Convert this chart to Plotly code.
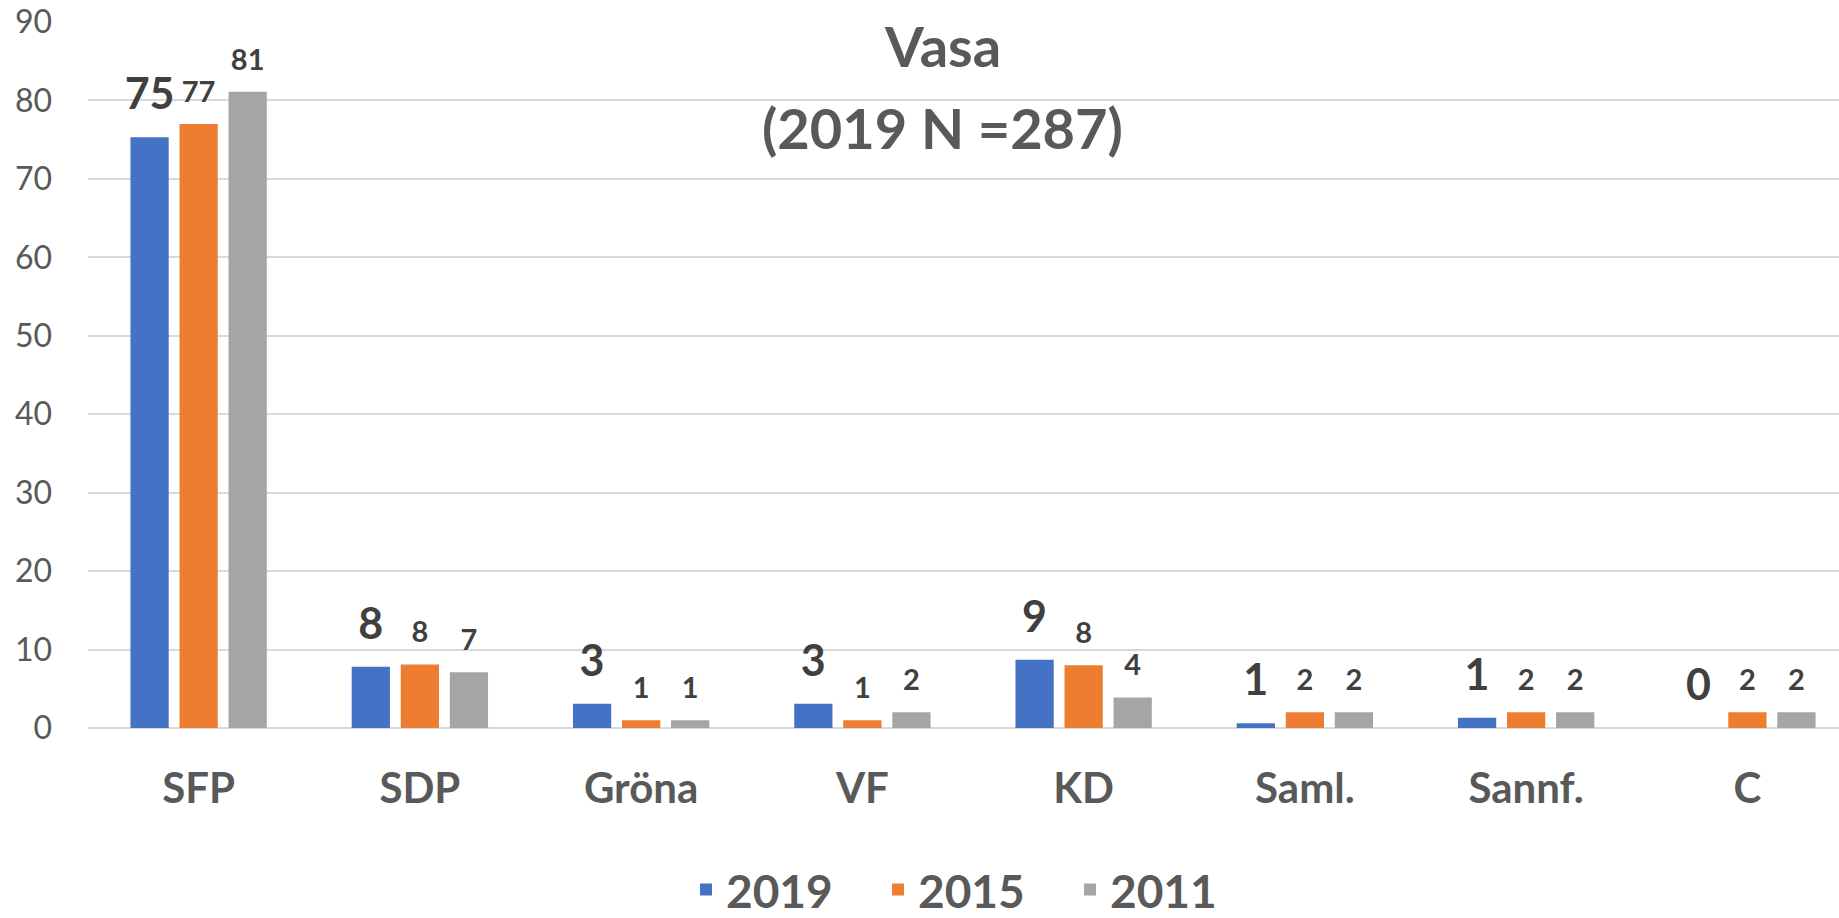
import plotly.graph_objects as go

categories = ["SFP", "SDP", "Gröna", "VF", "KD", "Saml.", "Sannf.", "C"]
series_names = ["2019", "2015", "2011"]
values_2019 = [75.3, 7.8, 3.1, 3.1, 8.7, 0.6, 1.3, 0.0]
values_2015 = [77.0, 8.1, 1.0, 1.0, 8.0, 2.0, 2.0, 2.0]
values_2011 = [81.1, 7.1, 1.0, 2.0, 3.9, 2.0, 2.0, 2.0]
colors = ["#4472C4", "#ED7D31", "#A5A5A5"]
y_ticks = [0, 10, 20, 30, 40, 50, 60, 70, 80, 90]
title_lines = ["Vasa", "(2019 N =287)"]

all_values = [values_2019, values_2015, values_2011]
label_sizes = [43, 29, 29]
label_marker = [26, 22, 22]

FONT = "Lato"
GREY = "#595959"
LABEL = "#404040"

fig = go.Figure()
for name, vals, col in zip(series_names, all_values, colors):
    fig.add_trace(go.Bar(
        x=categories, y=vals, name=name,
        marker=dict(color=col, line=dict(width=0)),
        hoverinfo="skip",
    ))

for name, vals, fs, ms in zip(series_names, all_values, label_sizes, label_marker):
    fig.add_trace(go.Scatter(
        x=categories, y=vals, mode="markers+text",
        text=[str(int(round(v))) for v in vals],
        textposition="top center",
        textfont=dict(family=FONT, size=fs, color=LABEL, weight="bold"),
        marker=dict(size=ms, opacity=0),
        showlegend=False, hoverinfo="skip", cliponaxis=False,
    ))

fig.update_layout(
    width=1839, height=918,
    margin=dict(l=88, r=0, t=22, b=190, pad=0, autoexpand=False),
    paper_bgcolor="white", plot_bgcolor="white",
    barmode="group", bargap=0.335, bargroupgap=0.22,
    scattermode="group", scattergap=0.335,
    font=dict(family=FONT, color=GREY),
    showlegend=True,
    legend=dict(
        orientation="h", x=0.3415, xanchor="left", y=-0.229, yanchor="middle",
        font=dict(family=FONT, size=46, color=GREY, weight="bold"),
        traceorder="normal", entrywidth=147,
    ),
    xaxis=dict(
        range=[-0.5, 7.414], showgrid=False, showline=False, zeroline=False,
        tickfont=dict(family=FONT, size=42, color=GREY, weight="bold"),
        ticks="", ticklabelstandoff=32,
    ),
    yaxis=dict(
        range=[0, 90], tickvals=y_ticks, showgrid=True, gridcolor="#D9D9D9",
        gridwidth=1.5, zeroline=True, zerolinecolor="#D9D9D9", zerolinewidth=1.5,
        showline=False, ticks="", ticklabelstandoff=35,
        tickfont=dict(family=FONT, size=32, color=GREY),
    ),
)

fig.add_annotation(text=title_lines[0], xref="paper", yref="paper", x=0.488, y=0.9674,
                   xanchor="center", yanchor="middle", showarrow=False,
                   font=dict(family=FONT, size=56, color=GREY, weight="bold"))
fig.add_annotation(text=title_lines[1], xref="paper", yref="paper", x=0.488, y=0.8506,
                   xanchor="center", yanchor="middle", showarrow=False,
                   font=dict(family=FONT, size=56, color=GREY, weight="bold"))

fig.write_html("out.html", config={"displayModeBar": False},
               post_script="document.body.style.margin='0px';")
